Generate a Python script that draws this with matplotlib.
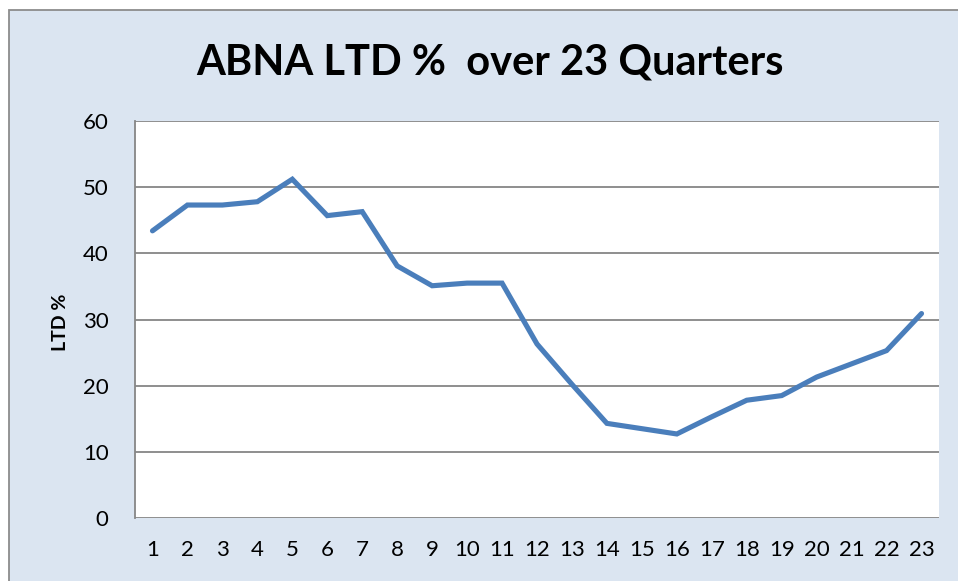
import matplotlib.pyplot as plt
from matplotlib.patches import Rectangle

quarters = list(range(1, 24))
ltd_pct = [43.4, 47.3, 47.3, 47.8, 51.2, 45.7, 46.3, 38.1, 35.1, 35.5, 35.5, 26.3,
           20.2, 14.3, 13.5, 12.7, 15.3, 17.8, 18.5, 21.3, 23.3, 25.3, 30.9]

plt.rcParams['font.family'] = ['Lato', 'DejaVu Sans']

fig = plt.figure(figsize=(9.58, 5.81), dpi=100)
fig.patch.set_facecolor('white')
# chart area background with gray frame (right/bottom edges cut off)
fig.patches.append(Rectangle((8.5 / 958, -0.1), 1.2, 1 - 9.5 / 581 + 0.1,
                             transform=fig.transFigure, facecolor='#dbe5f1',
                             edgecolor='#8c8c8c', linewidth=1.3, zorder=-1))

ax = fig.add_axes([135 / 958, 1 - 518 / 581, (939 - 135) / 958, (518 - 121) / 581])
ax.set_zorder(2)
ax.set_facecolor('white')
ax.plot(quarters, ltd_pct, color='#4a7ebb', linewidth=3.7, solid_capstyle='round',
        solid_joinstyle='miter', zorder=3)

ax.set_xlim(0.5, 23.5)
ax.set_ylim(0, 60)
ax.set_xticks(quarters)
ax.set_yticks(range(0, 61, 10))
ax.grid(axis='y', color='#868686', linewidth=1.3)
ax.set_axisbelow(True)
for s in ['top', 'right', 'bottom']:
    ax.spines[s].set_visible(False)
ax.spines['left'].set_color('#868686')
ax.spines['left'].set_linewidth(1.3)
ax.tick_params(axis='both', length=0, labelsize=16)
ax.tick_params(axis='y', pad=19)
ax.tick_params(axis='x', pad=16)

fig.text(490 / 958, 1 - 62 / 581, 'ABNA LTD %  over 23 Quarters', ha='center', va='center',
         fontsize=30, fontweight='bold', zorder=3)
fig.text(60 / 958, 1 - 322 / 581, 'LTD %', rotation=90, ha='center', va='center',
         fontsize=14, fontweight='bold', zorder=3)

fig.savefig('out.png', dpi=100)
